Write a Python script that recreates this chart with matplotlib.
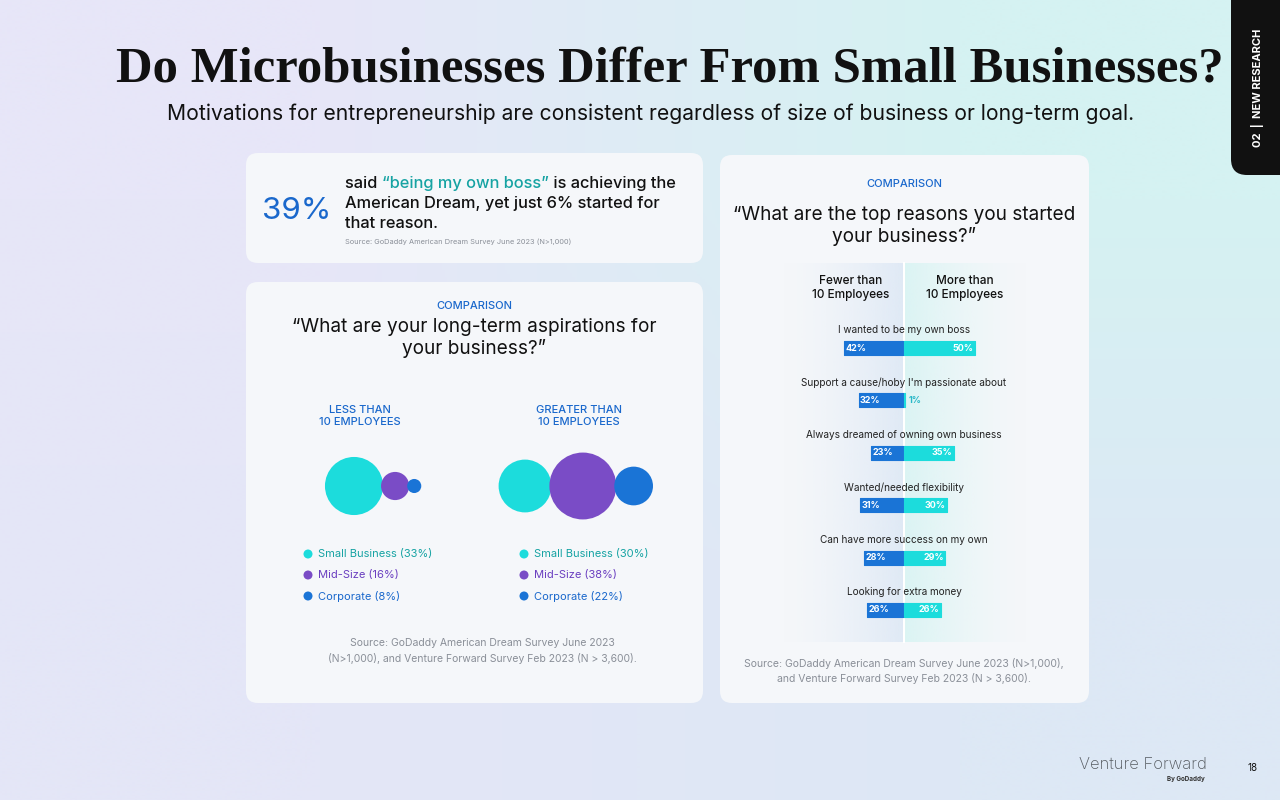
"""
Venture Forward page 18: microbusinesses vs small businesses.
Bubble comparison of long-term aspirations and a diverging bar chart of reasons.
"""

import numpy as np
import matplotlib
matplotlib.use("Agg")
import matplotlib.pyplot as plt
from matplotlib.patches import FancyBboxPatch, Circle
from matplotlib.colors import to_rgb

plt.rcParams["font.family"] = ["Inter", "DejaVu Sans"]

# ============================================================
# Data
# ============================================================

aspiration_names = ["Small Business", "Mid-Size", "Corporate"]
aspiration_less_10 = [33, 16, 8]
aspiration_more_10 = [30, 38, 22]

reasons = [
    "I wanted to be my own boss",
    "Support a cause/hoby I'm passionate about",
    "Always dreamed of owning own business",
    "Wanted/needed flexibility",
    "Can have more success on my own",
    "Looking for extra money",
]
fewer_than_10 = [42, 32, 23, 31, 28, 26]
more_than_10 = [50, 1, 35, 30, 29, 26]

headline_pct = "39%"

# ============================================================
# Colours
# ============================================================

CYAN = "#1cdcdc"
PURPLE = "#7a4cc6"
BLUE = "#1a74d6"
TEAL_TXT = "#16a3a3"
PURPLE_TXT = "#6a3ec0"
BLUE_TXT = "#1a68cc"
CARD = "#f5f7fa"
DARK = "#111111"
GREY = "#8a8f98"
bubble_colors = [CYAN, PURPLE, BLUE]
legend_colors = [TEAL_TXT, PURPLE_TXT, BLUE_TXT]

# ============================================================
# Page canvas (pixel coordinates)
# ============================================================

fig = plt.figure(figsize=(12.8, 8), dpi=100)
ax = fig.add_axes([0, 0, 1, 1])
ax.set_xlim(0, 1280)
ax.set_ylim(800, 0)
ax.axis("off")

corners = np.array([
    [to_rgb("#e7e6f8"), to_rgb("#d5f2f2")],
    [to_rgb("#e4e6f7"), to_rgb("#dde8f5")],
])
ax.imshow(corners, extent=(0, 1280, 800, 0), interpolation="bilinear",
          aspect="auto", zorder=0)


def card(x, y, w, h, color=CARD, r=12, z=1):
    ax.add_patch(FancyBboxPatch((x, y), w, h,
                                boxstyle=f"round,pad=0,rounding_size={r}",
                                facecolor=color, edgecolor="none", zorder=z))


card(246, 153, 457, 110)
card(246, 282, 457, 421)
card(720, 155, 369, 548)

# side tab
card(1231, -30, 80, 205, color=DARK, r=16)
ax.text(1257, 88, "02  |  NEW RESEARCH", rotation=90, color="white",
        fontsize=8, fontweight="bold", ha="center", va="center", zorder=3)

# title + subtitle
ax.text(670, 70, "Do Microbusinesses Differ From Small Businesses?",
        family="Liberation Serif", fontsize=36.5, fontweight="bold",
        color=DARK, ha="center", va="center", zorder=3)
ax.text(651, 114, "Motivations for entrepreneurship are consistent regardless "
        "of size of business or long-term goal.",
        fontsize=15.2, color=DARK, ha="center", va="center", zorder=3)

# ============================================================
# Top stat card
# ============================================================

ax.text(297, 211, headline_pct, fontsize=22.5, color=BLUE_TXT,
        ha="center", va="center", zorder=3)
t1 = ax.text(345, 191, "said ", fontsize=11.8, color=DARK, fontweight="medium",
             ha="left", va="bottom", zorder=3)
t2 = ax.annotate("“being my own boss”", xy=(1, 0), xycoords=t1,
                 fontsize=11.8, color=TEAL_TXT, fontweight="medium",
                 ha="left", va="bottom", zorder=3)
ax.annotate(" is achieving the", xy=(1, 0), xycoords=t2,
            fontsize=11.8, color=DARK, fontweight="medium",
            ha="left", va="bottom", zorder=3)
ax.text(345, 211, "American Dream, yet just 6% started for", fontsize=11.8,
        color=DARK, fontweight="medium", ha="left", va="bottom", zorder=3)
ax.text(345, 231, "that reason.", fontsize=11.8, color=DARK,
        fontweight="medium", ha="left", va="bottom", zorder=3)
ax.text(345, 242, "Source: GoDaddy American Dream Survey June 2023 (N>1,000)",
        fontsize=5.3, color=GREY, ha="left", va="center", zorder=3)

# ============================================================
# Bubble card
# ============================================================

ax.text(474, 306, "COMPARISON", fontsize=8, color=BLUE_TXT,
        fontweight="medium", ha="center", va="center", zorder=3)
ax.text(474, 338, "“What are your long-term aspirations for\nyour business?”",
        fontsize=13.7, color=DARK, ha="center", va="center",
        linespacing=1.25, zorder=3)

PX_PER_PCT = 1.76   # bubble diameter per percentage point
BUBBLE_Y = 486


def bubble_group(values, x0, header, hx, lx):
    ax.text(hx, 416, header, fontsize=8, color=BLUE_TXT, fontweight="medium",
            ha="center", va="center", linespacing=1.2, zorder=3)
    cx = x0
    prev_r = None
    for i, v in enumerate(values):
        r = v * PX_PER_PCT / 2
        if prev_r is not None:
            cx += prev_r + r - 2
        ax.add_patch(Circle((cx, BUBBLE_Y), r, facecolor=bubble_colors[i],
                            edgecolor="none", zorder=3 + i))
        prev_r = r
        ly = 554 + 21 * i
        ax.add_patch(Circle((lx, ly), 4.5, facecolor=bubble_colors[i],
                            edgecolor="none", zorder=3))
        ax.text(lx + 10, ly, f"{aspiration_names[i]} ({v}%)", fontsize=8,
                color=legend_colors[i], ha="left", va="center", zorder=3)


bubble_group(aspiration_less_10, 354, "LESS THAN\n10 EMPLOYEES", 360, 308)
bubble_group(aspiration_more_10, 525, "GREATER THAN\n10 EMPLOYEES", 579, 524)

ax.text(482, 651, "Source: GoDaddy American Dream Survey June 2023\n"
        "(N>1,000), and Venture Forward Survey Feb 2023 (N > 3,600).",
        fontsize=7.5, color=GREY, ha="center", va="center",
        linespacing=1.45, zorder=3)

# ============================================================
# Bar card
# ============================================================

ax.text(904, 184, "COMPARISON", fontsize=8, color=BLUE_TXT,
        fontweight="medium", ha="center", va="center", zorder=3)
ax.text(904, 226, "“What are the top reasons you started\nyour business?”",
        fontsize=13.7, color=DARK, ha="center", va="center",
        linespacing=1.25, zorder=3)

# soft panel behind the bars
grad = np.linspace(0, 1, 200)
left_rgba = np.zeros((1, 200, 4))
left_rgba[..., :3] = to_rgb("#dde8f5")
left_rgba[..., 3] = grad ** 1.5 * 0.9
right_rgba = np.zeros((1, 200, 4))
right_rgba[..., :3] = to_rgb("#d8f4f3")
right_rgba[..., 3] = grad[::-1] ** 1.5 * 0.9
ax.imshow(left_rgba, extent=(780, 904, 642, 263), aspect="auto",
          interpolation="bilinear", zorder=2)
ax.imshow(right_rgba, extent=(904, 1030, 642, 263), aspect="auto",
          interpolation="bilinear", zorder=2)
ax.plot([904, 904], [263, 642], color="white", lw=1.5, zorder=2.5)

ax.text(851, 288, "Fewer than\n10 Employees", fontsize=8.5, color=DARK,
        fontweight="medium", ha="center", va="center", linespacing=1.15,
        zorder=3)
ax.text(965, 288, "More than\n10 Employees", fontsize=8.5, color=DARK,
        fontweight="medium", ha="center", va="center", linespacing=1.15,
        zorder=3)

bx = fig.add_axes([762 / 1280, (800 - 636.2) / 800, 284 / 1280, 314.4 / 800])
bx.patch.set_alpha(0)
bx.set_xlim(-100, 100)
bx.set_ylim(len(reasons) - 0.5, -0.5)
bx.axis("off")

ypos = np.arange(len(reasons))
bx.barh(ypos, [-v for v in fewer_than_10], height=0.27, color=BLUE,
        edgecolor=BLUE, linewidth=0.8, joinstyle="round", zorder=3)
bx.barh(ypos, more_than_10, height=0.27, color=CYAN,
        edgecolor=CYAN, linewidth=0.8, joinstyle="round", zorder=3)

for y, label, lv, rv in zip(ypos, reasons, fewer_than_10, more_than_10):
    bx.text(0, y - 0.34, label, fontsize=7.2, color="#222222",
            ha="center", va="center", zorder=4)
    bx.text(-lv + 1.0, y, f"{lv}%", fontsize=6.5, color="white",
            fontweight="bold", ha="left", va="center", zorder=4)
    if rv >= 5:
        bx.text(rv - 1.0, y, f"{rv}%", fontsize=6.5, color="white",
                fontweight="bold", ha="right", va="center", zorder=4)
    else:
        bx.text(rv + 2.5, y, f"{rv}%", fontsize=6.5, color="#29b8c8",
                fontweight="bold", ha="left", va="center", zorder=4)

ax.text(904, 671, "Source: GoDaddy American Dream Survey June 2023 (N>1,000),\n"
        "and Venture Forward Survey Feb 2023 (N > 3,600).",
        fontsize=7.5, color=GREY, ha="center", va="center",
        linespacing=1.45, zorder=3)

# ============================================================
# Footer
# ============================================================

ax.text(1143, 764, "Venture Forward", fontsize=12, color="#555a60",
        fontweight="light", ha="center", va="center", zorder=3)
ax.text(1205, 779, "By GoDaddy", fontsize=4.5, color="#333333",
        fontweight="bold", ha="right", va="center", zorder=3)
ax.text(1253, 768, "18", fontsize=7, color=DARK, ha="center",
        va="center", zorder=3)

fig.savefig("out.png", dpi=100)
